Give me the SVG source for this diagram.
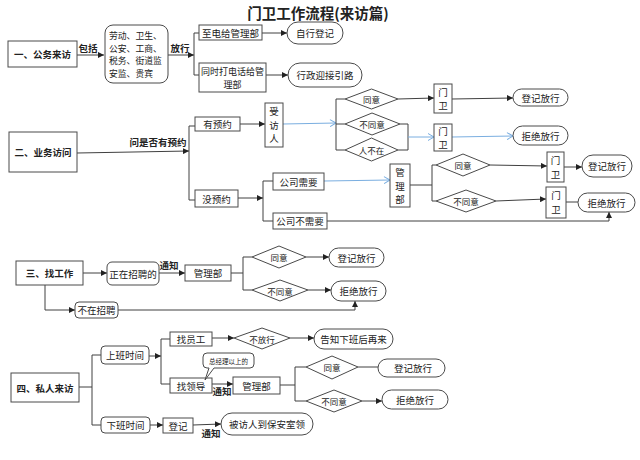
<svg xmlns="http://www.w3.org/2000/svg" width="640" height="460" viewBox="0 0 640 460">
<style>
.bx{fill:#fff;stroke:#4a4a4a;stroke-width:1}
.t{font-family:"Noto Sans CJK SC","Noto Sans",sans-serif;font-size:9.5px;fill:#222;text-anchor:middle;dominant-baseline:central}
.s{text-anchor:start;font-size:8.8px}
.b{font-weight:bold}
.ln{fill:none;stroke:#404040;stroke-width:1}
.bl{fill:none;stroke:#7aaee0;stroke-width:1}
.ar{marker-end:url(#a)}
.ab{marker-end:url(#ab)}
</style>
<defs>
<marker id="a" markerWidth="6" markerHeight="6" refX="6" refY="3" orient="auto" markerUnits="userSpaceOnUse"><path d="M0,0 L6,3 L0,6 Z" fill="#222"/></marker>
<marker id="ab" markerWidth="7" markerHeight="8" refX="6.5" refY="4" orient="auto" markerUnits="userSpaceOnUse"><path d="M0.5,0.5 L6.5,4 L0.5,7.5" fill="none" stroke="#7aaee0" stroke-width="1"/></marker>
</defs>
<rect width="640" height="460" fill="#fff"/>
<text class="t b" x="318" y="12" style="font-size:14.5px">门卫工作流程(来访篇)</text>

<g id="connectors">
<!-- section 1 -->
<path class="ln ar" d="M77,55 H104"/>
<path class="ln ar" d="M168,55 H194"/>
<path class="ln" d="M199,33 H194 V75 H199"/>
<path class="ln ar" d="M262,33 H287"/>
<path class="ln ar" d="M266,75 H288"/>
<!-- section 2 -->
<path class="ln ar" d="M77,153 L189,151"/>
<path class="ln" d="M195,126 H189 V200 H195"/>
<path class="ln ar" d="M240,124 H265"/>
<path class="bl ab" d="M283,124 L336,123"/>
<path class="ln" d="M345,99 H336 V150 H345 M336,124 H345"/>
<path class="ln ar" d="M398,99 L434,98"/>
<path class="ln ar" d="M452,99 L513,98"/>
<path class="ln" d="M400,124 H408 V150 H398"/>
<path class="bl ab" d="M408,137 H434"/>
<path class="bl ab" d="M452,137 L513,136"/>
<path class="ln ar" d="M238,198 H263"/>
<path class="ln" d="M273,181 H263 V221 H273"/>
<path class="bl ab" d="M324,181 L390,180"/>
<path class="ln" d="M410,185 H432 M436,165 H432 V201 H436"/>
<path class="ln ar" d="M490,165 L547,166"/>
<path class="ln ar" d="M564,167 H582"/>
<path class="ln ar" d="M496,201 L546,199"/>
<path class="ln" d="M566,202 H578"/>
<path class="ln ar" d="M327,221 H609 V212"/>
<!-- section 3 -->
<path class="ln ar" d="M83,273 H107"/>
<path class="ln ar" d="M159,273 H185"/>
<path class="ln" d="M231,273 H243 M252,257 H243 V290 H252"/>
<path class="ln ar" d="M306,257 H329"/>
<path class="ln ar" d="M308,290 H331"/>
<path class="ln ar" d="M45,285 V310 H75"/>
<path class="ln ar" d="M118,310 H355 V301"/>
<!-- section 4 -->
<path class="ln" d="M79,387 H92 M101,355 H92 V425 H101"/>
<path class="ln ar" d="M149,356 H161"/>
<path class="ln" d="M170,339 H161 V384 H170"/>
<path class="ln ar" d="M212,338 H234"/>
<path class="ln ar" d="M290,338 H314"/>
<path class="ln ar" d="M212,384 H233"/>
<path class="ln" d="M280,385 H295 M306,367 H295 V401 H306"/>
<path class="ln" d="M358,367 H378"/>
<path class="ln ar" d="M362,401 H382"/>
<path class="ln ar" d="M150,425 H163"/>
<path class="ln ar" d="M193,425 L221,424"/>
</g>

<g id="labels">
<text class="t b" x="88" y="48">包括</text>
<text class="t b" x="180" y="48">放行</text>
<text class="t b" x="158" y="142">问是否有预约</text>
<text class="t b" x="169" y="265">通知</text>
<text class="t b" x="222" y="391">通知</text>
<text class="t b" x="211" y="433">通知</text>
</g>

<!-- Section 1 -->
<g id="n-gongwu"><rect class="bx" x="8" y="41" width="69" height="26"/><text class="t b" x="42.5" y="54">一、公务来访</text></g>
<g id="n-include"><rect class="bx" x="105" y="25" width="63" height="58" rx="8"/>
<text class="t s" x="109" y="35.5">劳动、卫生、</text><text class="t s" x="109" y="48">公安、工商、</text><text class="t s" x="109" y="60.5">税务、街道监</text><text class="t s" x="109" y="73">安监、贵宾</text></g>
<g id="n-zhidian"><rect class="bx" x="199" y="25" width="63" height="15"/><text class="t" x="230.5" y="32.5">至电给管理部</text></g>
<g id="n-zixing"><rect class="bx" x="287" y="22" width="56" height="22" rx="11"/><text class="t" x="315" y="33">自行登记</text></g>
<g id="n-tongshi"><rect class="bx" x="199" y="63" width="67" height="29"/><text class="t" x="232.5" y="71" style="font-size:9px">同时打电话给管</text><text class="t" x="232.5" y="84" style="font-size:9px">理部</text></g>
<g id="n-xingzheng"><rect class="bx" x="288" y="63" width="74" height="24" rx="12"/><text class="t" x="325" y="75">行政迎接引路</text></g>

<!-- Section 2 -->
<g id="n-yewu"><rect class="bx" x="9" y="132" width="68" height="40"/><text class="t b" x="43" y="152">二、业务访问</text></g>
<g id="n-youyuyue"><rect class="bx" x="195" y="117" width="45" height="14"/><text class="t" x="217.5" y="124">有预约</text></g>
<g id="n-shoufangren"><rect class="bx" x="265" y="103" width="18" height="44"/><text class="t" x="274" y="111">受</text><text class="t" x="274" y="124.5">访</text><text class="t" x="274" y="138">人</text></g>
<g id="d-tongyi1"><path class="bx" d="M345,99 L371.5,89 L398,99 L371.5,109 Z"/><text class="t" x="371.5" y="99" style="font-size:8.5px">同意</text></g>
<g id="d-butongyi1"><path class="bx" d="M345,124 L372,113 L400,124 L372,135 Z"/><text class="t" x="372" y="124" style="font-size:8.5px">不同意</text></g>
<g id="d-renbuzai"><path class="bx" d="M345,150 L371.5,138 L398,150 L371.5,161 Z"/><text class="t" x="371.5" y="150" style="font-size:8.5px">人不在</text></g>
<g id="n-menwei1"><rect class="bx" x="434" y="84" width="18" height="29"/><text class="t" x="443" y="92">门</text><text class="t" x="443" y="105">卫</text></g>
<g id="n-dengji1"><rect class="bx" x="513" y="89" width="55" height="17" rx="8.5"/><text class="t" x="540.5" y="97.5">登记放行</text></g>
<g id="n-menwei2"><rect class="bx" x="434" y="124" width="18" height="27"/><text class="t" x="443" y="131">门</text><text class="t" x="443" y="144">卫</text></g>
<g id="n-jujue1"><rect class="bx" x="513" y="126" width="55" height="19" rx="9.5"/><text class="t" x="540.5" y="135.5">拒绝放行</text></g>
<g id="n-meiyuyue"><rect class="bx" x="195" y="190" width="43" height="17"/><text class="t" x="216.5" y="198.5">没预约</text></g>
<g id="n-xuyao"><rect class="bx" x="273" y="173" width="51" height="17"/><text class="t" x="298.5" y="181.5">公司需要</text></g>
<g id="n-buxuyao"><rect class="bx" x="273" y="213" width="54" height="16"/><text class="t" x="300" y="221">公司不需要</text></g>
<g id="n-guanli1"><rect class="bx" x="390" y="164" width="20" height="43"/><text class="t" x="400" y="172">管</text><text class="t" x="400" y="185.5">理</text><text class="t" x="400" y="199">部</text></g>
<g id="d-tongyi2"><path class="bx" d="M436,165 L463,154 L490,165 L463,176 Z"/><text class="t" x="463" y="165" style="font-size:8.5px">同意</text></g>
<g id="d-butongyi2"><path class="bx" d="M436,201 L466,190 L496,201 L466,212 Z"/><text class="t" x="466" y="201" style="font-size:8.5px">不同意</text></g>
<g id="n-menwei3"><rect class="bx" x="547" y="152" width="17" height="30"/><text class="t" x="555.5" y="160">门</text><text class="t" x="555.5" y="173.5">卫</text></g>
<g id="n-dengji2"><rect class="bx" x="582" y="155" width="50" height="22" rx="11"/><text class="t" x="607" y="166">登记放行</text></g>
<g id="n-menwei4"><rect class="bx" x="546" y="187" width="20" height="31"/><text class="t" x="556" y="195">门</text><text class="t" x="556" y="208.5">卫</text></g>
<g id="n-jujue2"><rect class="bx" x="578" y="193" width="57" height="19" rx="9.5"/><text class="t" x="606.5" y="202.5">拒绝放行</text></g>

<!-- Section 3 -->
<g id="n-zhaogongzuo"><rect class="bx" x="16" y="261" width="67" height="24"/><text class="t b" x="49.5" y="273">三、找工作</text></g>
<g id="n-zhengzai"><rect class="bx" x="107" y="262" width="52" height="23" rx="5"/><text class="t" x="133" y="273.5">正在招聘的</text></g>
<g id="n-guanli2"><rect class="bx" x="185" y="265" width="46" height="16"/><text class="t" x="208" y="273">管理部</text></g>
<g id="d-tongyi3"><path class="bx" d="M252,257 L279,246 L306,257 L279,268 Z"/><text class="t" x="279" y="257" style="font-size:8.5px">同意</text></g>
<g id="d-butongyi3"><path class="bx" d="M252,290 L280,280 L308,290 L280,301 Z"/><text class="t" x="280" y="290.5" style="font-size:8.5px">不同意</text></g>
<g id="n-dengji3"><rect class="bx" x="329" y="248" width="55" height="19" rx="9.5"/><text class="t" x="356.5" y="257.5">登记放行</text></g>
<g id="n-jujue3"><rect class="bx" x="331" y="281" width="55" height="20" rx="10"/><text class="t" x="358.5" y="291">拒绝放行</text></g>
<g id="n-buzai"><rect class="bx" x="75" y="302" width="43" height="16" rx="4"/><text class="t" x="96.5" y="310">不在招聘</text></g>

<!-- Section 4 -->
<g id="n-siren"><rect class="bx" x="11" y="373" width="68" height="29"/><text class="t b" x="45" y="387.5">四、私人来访</text></g>
<g id="n-shangban"><rect class="bx" x="101" y="346" width="48" height="18" rx="4"/><text class="t" x="125" y="355">上班时间</text></g>
<g id="n-yuangong"><rect class="bx" x="170" y="332" width="42" height="14"/><text class="t" x="191" y="339">找员工</text></g>
<g id="n-lingdao"><rect class="bx" x="170" y="378" width="42" height="15"/><text class="t" x="191" y="385.5">找领导</text></g>
<g id="n-callout"><path class="bx" d="M207,353 H250 Q254,353 254,357 V364 Q254,368 250,368 H214 L205,380 L209,368 H207 Q203,368 203,364 V357 Q203,353 207,353 Z"/><text class="t" x="228.5" y="360.5" style="font-size:6.5px">总经理以上的</text></g>
<g id="d-bufangxing"><path class="bx" d="M234,338 L262,328 L290,338 L262,349 Z"/><text class="t" x="262" y="338.5" style="font-size:8.5px">不放行</text></g>
<g id="n-gaozhi"><rect class="bx" x="314" y="329" width="79" height="20" rx="10"/><text class="t" x="353.5" y="339">告知下班后再来</text></g>
<g id="n-guanli3"><rect class="bx" x="233" y="377" width="47" height="17"/><text class="t" x="256.5" y="385.5">管理部</text></g>
<g id="d-tongyi4"><path class="bx" d="M306,367 L332,356 L358,367 L332,379 Z"/><text class="t" x="332" y="367" style="font-size:8.5px">同意</text></g>
<g id="d-butongyi4"><path class="bx" d="M306,401 L334,390 L362,401 L334,412 Z"/><text class="t" x="334" y="401" style="font-size:8.5px">不同意</text></g>
<g id="n-dengji4"><rect class="bx" x="378" y="359" width="67" height="18" rx="9"/><text class="t" x="413" y="368">登记放行</text></g>
<g id="n-jujue4"><rect class="bx" x="382" y="390" width="66" height="19" rx="9.5"/><text class="t" x="415" y="399.5">拒绝放行</text></g>
<g id="n-xiaban"><rect class="bx" x="101" y="417" width="49" height="16" rx="4"/><text class="t" x="125.5" y="425">下班时间</text></g>
<g id="n-dengji5"><rect class="bx" x="163" y="418" width="30" height="15"/><text class="t" x="178" y="425.5">登记</text></g>
<g id="n-beifangren"><rect class="bx" x="221" y="413" width="92" height="22" rx="11"/><text class="t" x="267" y="424">被访人到保安室领</text></g>
</svg>
